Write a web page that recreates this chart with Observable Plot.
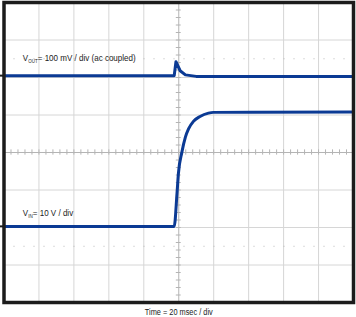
<!DOCTYPE html>
<html>
<head>
<meta charset="utf-8">
<script src="https://cdn.jsdelivr.net/npm/d3@7"></script>
<script src="https://cdn.jsdelivr.net/npm/@observablehq/plot@0.6"></script>
<style>
  html, body { margin: 0; padding: 0; background: #fff; }
  #chart svg { display: block; }
</style>
</head>
<body>
<div id="chart"></div>
<script>
// Time in ms (20 ms/div), amplitude in screen divisions (center = 0)
const voutTime = [0, 97.4, 98.4, 100.8, 103.8, 110, 200];
const voutDiv  = [2.05, 2.05, 2.42, 2.18, 2.07, 2.03, 2.03];

const vinTime = [0, 97.4, 99.0, 99.8, 101.8, 103.8, 105.6, 108.4, 112.2, 117.0, 119.8, 200];
const vinDiv  = [-1.97, -1.97, -1.09, -0.56, 0.01, 0.41, 0.63, 0.83, 0.96, 1.05, 1.07, 1.08];

const labelTexts = ["V_OUT= 100 mV / div (ac coupled)", "V_IN= 10 V / div"];
const labelTime = [10.8, 10.8];
const labelDiv = [2.53, -1.6];
const caption = "Time = 20 msec / div";

const gridX = [20, 40, 60, 80, 120, 140, 160, 180];
const gridY = [-3, -2, -1, 1, 2, 3];
const cursorY = [2.5, -2.5];
const groundMarkers = [2.05, -1.97];

const vout = voutTime.map((t, i) => ({t, v: voutDiv[i]}));
const vin = vinTime.map((t, i) => ({t, v: vinDiv[i]}));
const labels = labelTexts.map((s, i) => ({s, t: labelTime[i], v: labelDiv[i]}));
const minorX = d3.range(4, 200, 4);
const minorY = d3.range(-3.8, 3.9, 0.2);

const font = "'Liberation Sans', Arial, sans-serif";
const traceColor = "#0b3a94";

const svg = Plot.plot({
  width: 356,
  height: 317,
  marginLeft: 3.5,
  marginRight: 3,
  marginTop: 2,
  marginBottom: 15,
  style: {fontFamily: font, background: "#fff", overflow: "visible"},
  x: {domain: [0, 200], axis: null},
  y: {domain: [-4, 4], axis: null},
  marks: [
    Plot.ruleX(gridX, {stroke: "#d6d6d6", strokeWidth: 1}),
    Plot.ruleY(gridY, {stroke: "#d6d6d6", strokeWidth: 1}),
    Plot.ruleY(cursorY, {stroke: "#b8b8b8", strokeWidth: 1, strokeDasharray: "1,9"}),
    Plot.ruleX([100], {stroke: "#b4b4b4", strokeWidth: 1}),
    Plot.ruleY([0], {stroke: "#b4b4b4", strokeWidth: 1}),
    Plot.ruleX(minorX, {y1: -0.07, y2: 0.07, stroke: "#b4b4b4", strokeWidth: 1}),
    Plot.ruleY(minorY, {x1: 98.6, x2: 101.4, stroke: "#b4b4b4", strokeWidth: 1}),
    Plot.text(labels, {x: "t", y: "v", text: "s", textAnchor: "start", fontSize: 9.8, fill: "#222"}),
    Plot.line(vout, {x: "t", y: "v", stroke: traceColor, strokeWidth: 3}),
    Plot.line(vin, {x: "t", y: "v", stroke: traceColor, strokeWidth: 3, curve: "monotone-x"}),
    Plot.text([caption], {frameAnchor: "bottom", dy: 12.5, fontSize: 9, fill: "#222"}),
    Plot.frame({stroke: "#1c1c1c", strokeWidth: 3.5}),
    Plot.ruleY(groundMarkers, {x1: -2, x2: 0, stroke: "#1c1c1c", strokeWidth: 2})
  ]
});

// subscript rendering for V_OUT / V_IN, and narrow (condensed) lettering
d3.select(svg).selectAll("text").each(function () {
  const s = d3.select(this);
  const m = this.textContent.match(/^V_([A-Z]+)(.*)$/);
  if (m) {
    s.text(null);
    s.append("tspan").text("V");
    s.append("tspan").attr("font-size", 5.5).attr("dy", 2).text(m[1]);
    s.append("tspan").attr("dy", -2).text(m[2]);
  }
  const x = parseFloat(s.attr("x")) || 0, y = parseFloat(s.attr("y")) || 0;
  const tr = s.attr("transform") || "";
  s.attr("transform", `${tr} translate(${x},${y}) scale(0.82,1) translate(${-x},${-y})`);
});

document.getElementById("chart").appendChild(svg);
</script>
</body>
</html>
